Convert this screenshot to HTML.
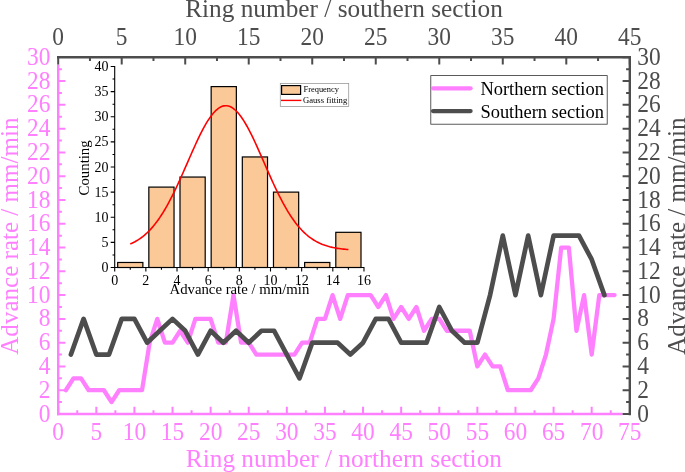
<!DOCTYPE html>
<html><head><meta charset="utf-8"><title>chart</title><style>html,body{margin:0;padding:0;background:#fff}svg{display:block;will-change:transform}</style></head><body>
<svg width="685" height="472" viewBox="0 0 685 472" font-family="'Liberation Serif', serif">
<rect width="685" height="472" fill="#fff"/>
<polyline points="65.82,390.22 73.44,378.33 81.06,378.33 88.69,390.22 96.31,390.22 103.93,390.22 111.55,402.11 119.17,390.22 126.79,390.22 134.41,390.22 142.03,390.22 149.66,342.66 157.28,318.88 164.9,342.66 172.52,342.66 180.14,330.77 187.76,342.66 195.38,318.88 203.01,318.88 210.63,318.88 218.25,342.66 225.87,342.66 233.49,295.1 241.11,342.66 248.73,342.66 256.35,354.55 263.98,354.55 271.6,354.55 279.22,354.55 286.84,354.55 294.46,354.55 302.08,342.66 309.7,342.66 317.33,318.88 324.95,318.88 332.57,295.1 340.19,318.88 347.81,295.1 355.43,295.1 363.05,295.1 370.67,295.1 378.3,306.99 385.92,295.1 393.54,318.88 401.16,306.99 408.78,318.88 416.4,306.99 424.02,330.77 431.65,318.88 439.27,318.88 446.89,330.77 454.51,330.77 462.13,330.77 469.75,330.77 477.37,366.44 484.99,354.55 492.62,366.44 500.24,366.44 507.86,390.22 515.48,390.22 523.1,390.22 530.72,390.22 538.34,378.33 545.97,354.55 553.59,318.88 561.21,247.54 568.83,247.54 576.45,330.77 584.07,295.1 591.69,354.55 599.31,295.1 606.94,295.1 614.56,295.1" fill="none" stroke="#FF80FF" stroke-width="4.3" stroke-linejoin="round" stroke-linecap="round"/>
<polyline points="70.9,354.55 83.6,318.88 96.31,354.55 109.01,354.55 121.71,318.88 134.41,318.88 147.12,342.66 159.82,330.77 172.52,318.88 185.22,330.77 197.92,354.55 210.63,330.77 223.33,342.66 236.03,330.77 248.73,342.66 261.44,330.77 274.14,330.77 286.84,354.55 299.54,378.33 312.24,342.66 324.95,342.66 337.65,342.66 350.35,354.55 363.05,342.66 375.76,318.88 388.46,318.88 401.16,342.66 413.86,342.66 426.56,342.66 439.27,306.99 451.97,330.77 464.67,342.66 477.37,342.66 490.08,295.1 502.78,235.65 515.48,295.1 528.18,235.65 540.88,295.1 553.59,235.65 566.29,235.65 578.99,235.65 591.69,259.43 604.4,295.1" fill="none" stroke="#4D4D4D" stroke-width="4.7" stroke-linejoin="round" stroke-linecap="round"/>
<path d="M58.2 64.5V415.2" stroke="#FF80FF" stroke-width="2.4" fill="none"/>
<path d="M58.2 414h7.2 M58.2 402.11h3.7 M58.2 390.22h7.2 M58.2 378.33h3.7 M58.2 366.44h7.2 M58.2 354.55h3.7 M58.2 342.66h7.2 M58.2 330.77h3.7 M58.2 318.88h7.2 M58.2 306.99h3.7 M58.2 295.1h7.2 M58.2 283.21h3.7 M58.2 271.32h7.2 M58.2 259.43h3.7 M58.2 247.54h7.2 M58.2 235.65h3.7 M58.2 223.76h7.2 M58.2 211.87h3.7 M58.2 199.98h7.2 M58.2 188.09h3.7 M58.2 176.2h7.2 M58.2 164.31h3.7 M58.2 152.42h7.2 M58.2 140.53h3.7 M58.2 128.64h7.2 M58.2 116.75h3.7 M58.2 104.86h7.2 M58.2 92.97h3.7 M58.2 81.08h7.2 M58.2 69.19h3.7" stroke="#FF80FF" stroke-width="2.0" fill="none"/>
<path d="M57 414H622.6" stroke="#FF80FF" stroke-width="2.4" fill="none"/>
<path d="M58.2 414v-7.2 M77.25 414v-3.7 M96.31 414v-7.2 M115.36 414v-3.7 M134.41 414v-7.2 M153.47 414v-3.7 M172.52 414v-7.2 M191.57 414v-3.7 M210.63 414v-7.2 M229.68 414v-3.7 M248.73 414v-7.2 M267.79 414v-3.7 M286.84 414v-7.2 M305.89 414v-3.7 M324.95 414v-7.2 M344 414v-3.7 M363.05 414v-7.2 M382.11 414v-3.7 M401.16 414v-7.2 M420.21 414v-3.7 M439.27 414v-7.2 M458.32 414v-3.7 M477.37 414v-7.2 M496.43 414v-3.7 M515.48 414v-7.2 M534.53 414v-3.7 M553.59 414v-7.2 M572.64 414v-3.7 M591.69 414v-7.2 M610.75 414v-3.7" stroke="#FF80FF" stroke-width="2.0" fill="none"/>
<path d="M57 57.3H631" stroke="#4D4D4D" stroke-width="2.4" fill="none"/>
<path d="M58.2 57.3v7.2 M89.96 57.3v3.7 M121.71 57.3v7.2 M153.47 57.3v3.7 M185.22 57.3v7.2 M216.98 57.3v3.7 M248.73 57.3v7.2 M280.49 57.3v3.7 M312.24 57.3v7.2 M344 57.3v3.7 M375.76 57.3v7.2 M407.51 57.3v3.7 M439.27 57.3v7.2 M471.02 57.3v3.7 M502.78 57.3v7.2 M534.53 57.3v3.7 M566.29 57.3v7.2 M598.04 57.3v3.7 M629.8 57.3v7.2" stroke="#4D4D4D" stroke-width="2.0" fill="none"/>
<path d="M629.8 57.3V415.2" stroke="#4D4D4D" stroke-width="2.4" fill="none"/>
<path d="M629.8 414h-7.2 M629.8 402.11h-3.7 M629.8 390.22h-7.2 M629.8 378.33h-3.7 M629.8 366.44h-7.2 M629.8 354.55h-3.7 M629.8 342.66h-7.2 M629.8 330.77h-3.7 M629.8 318.88h-7.2 M629.8 306.99h-3.7 M629.8 295.1h-7.2 M629.8 283.21h-3.7 M629.8 271.32h-7.2 M629.8 259.43h-3.7 M629.8 247.54h-7.2 M629.8 235.65h-3.7 M629.8 223.76h-7.2 M629.8 211.87h-3.7 M629.8 199.98h-7.2 M629.8 188.09h-3.7 M629.8 176.2h-7.2 M629.8 164.31h-3.7 M629.8 152.42h-7.2 M629.8 140.53h-3.7 M629.8 128.64h-7.2 M629.8 116.75h-3.7 M629.8 104.86h-7.2 M629.8 92.97h-3.7 M629.8 81.08h-7.2 M629.8 69.19h-3.7 M629.8 57.3h-7.2" stroke="#4D4D4D" stroke-width="2.0" fill="none"/>
<g font-size="23.4" fill="#FF80FF" text-anchor="end">
<text transform="translate(50.4,421.6) scale(1,1.06)">0</text>
<text transform="translate(50.4,397.82) scale(1,1.06)">2</text>
<text transform="translate(50.4,374.04) scale(1,1.06)">4</text>
<text transform="translate(50.4,350.26) scale(1,1.06)">6</text>
<text transform="translate(50.4,326.48) scale(1,1.06)">8</text>
<text transform="translate(50.4,302.7) scale(1,1.06)">10</text>
<text transform="translate(50.4,278.92) scale(1,1.06)">12</text>
<text transform="translate(50.4,255.14) scale(1,1.06)">14</text>
<text transform="translate(50.4,231.36) scale(1,1.06)">16</text>
<text transform="translate(50.4,207.58) scale(1,1.06)">18</text>
<text transform="translate(50.4,183.8) scale(1,1.06)">20</text>
<text transform="translate(50.4,160.02) scale(1,1.06)">22</text>
<text transform="translate(50.4,136.24) scale(1,1.06)">24</text>
<text transform="translate(50.4,112.46) scale(1,1.06)">26</text>
<text transform="translate(50.4,88.68) scale(1,1.06)">28</text>
<text transform="translate(50.4,64.9) scale(1,1.06)">30</text>
</g>
<g font-size="23.4" fill="#4D4D4D" text-anchor="start">
<text transform="translate(637.2,421.6) scale(1,1.06)">0</text>
<text transform="translate(637.2,397.82) scale(1,1.06)">2</text>
<text transform="translate(637.2,374.04) scale(1,1.06)">4</text>
<text transform="translate(637.2,350.26) scale(1,1.06)">6</text>
<text transform="translate(637.2,326.48) scale(1,1.06)">8</text>
<text transform="translate(637.2,302.7) scale(1,1.06)">10</text>
<text transform="translate(637.2,278.92) scale(1,1.06)">12</text>
<text transform="translate(637.2,255.14) scale(1,1.06)">14</text>
<text transform="translate(637.2,231.36) scale(1,1.06)">16</text>
<text transform="translate(637.2,207.58) scale(1,1.06)">18</text>
<text transform="translate(637.2,183.8) scale(1,1.06)">20</text>
<text transform="translate(637.2,160.02) scale(1,1.06)">22</text>
<text transform="translate(637.2,136.24) scale(1,1.06)">24</text>
<text transform="translate(637.2,112.46) scale(1,1.06)">26</text>
<text transform="translate(637.2,88.68) scale(1,1.06)">28</text>
<text transform="translate(637.2,64.9) scale(1,1.06)">30</text>
</g>
<g font-size="23.4" fill="#FF80FF" text-anchor="middle">
<text transform="translate(58.2,440.4) scale(1,1.06)">0</text>
<text transform="translate(96.31,440.4) scale(1,1.06)">5</text>
<text transform="translate(134.41,440.4) scale(1,1.06)">10</text>
<text transform="translate(172.52,440.4) scale(1,1.06)">15</text>
<text transform="translate(210.63,440.4) scale(1,1.06)">20</text>
<text transform="translate(248.73,440.4) scale(1,1.06)">25</text>
<text transform="translate(286.84,440.4) scale(1,1.06)">30</text>
<text transform="translate(324.95,440.4) scale(1,1.06)">35</text>
<text transform="translate(363.05,440.4) scale(1,1.06)">40</text>
<text transform="translate(401.16,440.4) scale(1,1.06)">45</text>
<text transform="translate(439.27,440.4) scale(1,1.06)">50</text>
<text transform="translate(477.37,440.4) scale(1,1.06)">55</text>
<text transform="translate(515.48,440.4) scale(1,1.06)">60</text>
<text transform="translate(553.59,440.4) scale(1,1.06)">65</text>
<text transform="translate(591.69,440.4) scale(1,1.06)">70</text>
<text transform="translate(629.8,440.4) scale(1,1.06)">75</text>
</g>
<g font-size="23.4" fill="#4D4D4D" text-anchor="middle">
<text transform="translate(58.2,44.9) scale(1,1.06)">0</text>
<text transform="translate(121.71,44.9) scale(1,1.06)">5</text>
<text transform="translate(185.22,44.9) scale(1,1.06)">10</text>
<text transform="translate(248.73,44.9) scale(1,1.06)">15</text>
<text transform="translate(312.24,44.9) scale(1,1.06)">20</text>
<text transform="translate(375.76,44.9) scale(1,1.06)">25</text>
<text transform="translate(439.27,44.9) scale(1,1.06)">30</text>
<text transform="translate(502.78,44.9) scale(1,1.06)">35</text>
<text transform="translate(566.29,44.9) scale(1,1.06)">40</text>
<text transform="translate(629.8,44.9) scale(1,1.06)">45</text>
</g>
<text x="344" y="17.2" font-size="25" fill="#4D4D4D" text-anchor="middle" textLength="317.6" lengthAdjust="spacingAndGlyphs">Ring number / southern section</text>
<text x="343.9" y="466.5" font-size="25" fill="#FF80FF" text-anchor="middle" textLength="316.1" lengthAdjust="spacingAndGlyphs">Ring number / northern section</text>
<text transform="translate(17.5,236.15) rotate(-90)" font-size="25" fill="#FF80FF" text-anchor="middle" textLength="237.2" lengthAdjust="spacingAndGlyphs">Advance rate / mm/min</text>
<text transform="translate(684.6,236.15) rotate(-90)" font-size="25" fill="#4D4D4D" text-anchor="middle" textLength="237.2" lengthAdjust="spacingAndGlyphs">Advance rate / mm/min</text>
<rect x="430.8" y="75.6" width="176.4" height="48.6" fill="#fff" stroke="#333" stroke-width="0.8"/>
<line x1="433" y1="88.3" x2="470.6" y2="88.3" stroke="#FF80FF" stroke-width="4.2" stroke-linecap="round"/>
<line x1="433" y1="111.1" x2="470.6" y2="111.1" stroke="#4D4D4D" stroke-width="4.2" stroke-linecap="round"/>
<text x="480.4" y="95" font-size="18.4" fill="#000" textLength="123.5" lengthAdjust="spacingAndGlyphs">Northern section</text>
<text x="480.4" y="117.6" font-size="18.4" fill="#000" textLength="123.5" lengthAdjust="spacingAndGlyphs">Southern section</text>
<rect x="117.68" y="262.48" width="25.2" height="5.02" fill="#FBC898" stroke="#000" stroke-width="1.2"/>
<rect x="148.84" y="187.1" width="25.2" height="80.4" fill="#FBC898" stroke="#000" stroke-width="1.2"/>
<rect x="180" y="177.05" width="25.2" height="90.45" fill="#FBC898" stroke="#000" stroke-width="1.2"/>
<rect x="211.16" y="86.6" width="25.2" height="180.9" fill="#FBC898" stroke="#000" stroke-width="1.2"/>
<rect x="242.32" y="156.95" width="25.2" height="110.55" fill="#FBC898" stroke="#000" stroke-width="1.2"/>
<rect x="273.48" y="192.12" width="25.2" height="75.38" fill="#FBC898" stroke="#000" stroke-width="1.2"/>
<rect x="304.64" y="262.48" width="25.2" height="5.02" fill="#FBC898" stroke="#000" stroke-width="1.2"/>
<rect x="335.8" y="232.32" width="25.2" height="35.18" fill="#FBC898" stroke="#000" stroke-width="1.2"/>
<polyline points="130.28,243.93 131.84,243.24 133.4,242.5 134.95,241.69 136.51,240.81 138.07,239.87 139.63,238.85 141.19,237.75 142.74,236.57 144.3,235.31 145.86,233.96 147.42,232.52 148.98,230.99 150.53,229.36 152.09,227.63 153.65,225.79 155.21,223.86 156.77,221.82 158.32,219.67 159.88,217.42 161.44,215.06 163,212.59 164.56,210.02 166.11,207.35 167.67,204.57 169.23,201.7 170.79,198.73 172.35,195.67 173.9,192.52 175.46,189.3 177.02,186 178.58,182.64 180.14,179.22 181.69,175.74 183.25,172.23 184.81,168.69 186.37,165.13 187.93,161.57 189.48,158 191.04,154.46 192.6,150.94 194.16,147.46 195.72,144.03 197.27,140.68 198.83,137.4 200.39,134.22 201.95,131.15 203.51,128.19 205.06,125.37 206.62,122.7 208.18,120.19 209.74,117.84 211.3,115.68 212.85,113.7 214.41,111.93 215.97,110.36 217.53,109.02 219.09,107.89 220.64,106.99 222.2,106.33 223.76,105.9 225.32,105.71 226.88,105.75 228.43,106.04 229.99,106.56 231.55,107.32 233.11,108.31 234.67,109.53 236.22,110.96 237.78,112.61 239.34,114.47 240.9,116.52 242.46,118.76 244.01,121.17 245.57,123.75 247.13,126.48 248.69,129.36 250.25,132.36 251.8,135.48 253.36,138.7 254.92,142.01 256.48,145.4 258.04,148.84 259.59,152.34 261.15,155.87 262.71,159.43 264.27,162.99 265.83,166.56 267.38,170.11 268.94,173.64 270.5,177.14 272.06,180.59 273.62,183.99 275.17,187.33 276.73,190.6 278.29,193.79 279.85,196.9 281.41,199.92 282.96,202.86 284.52,205.69 286.08,208.43 287.64,211.06 289.2,213.59 290.75,216.01 292.31,218.33 293.87,220.54 295.43,222.65 296.99,224.64 298.54,226.54 300.1,228.33 301.66,230.02 303.22,231.61 304.78,233.11 306.33,234.51 307.89,235.83 309.45,237.06 311.01,238.2 312.57,239.27 314.12,240.25 315.68,241.17 317.24,242.02 318.8,242.8 320.36,243.52 321.91,244.18 323.47,244.79 325.03,245.35 326.59,245.86 328.15,246.33 329.7,246.75 331.26,247.13 332.82,247.48 334.38,247.8 335.94,248.09 337.49,248.35 339.05,248.58 340.61,248.79 342.17,248.98 343.73,249.14 345.28,249.29 346.84,249.43 348.4,249.55" fill="none" stroke="#FF0000" stroke-width="1.6"/>
<path d="M114.7 66 V268 M114.7 267.5 h-4 M114.7 242.38 h-4 M114.7 217.25 h-4 M114.7 192.12 h-4 M114.7 167 h-4 M114.7 141.88 h-4 M114.7 116.75 h-4 M114.7 91.62 h-4 M114.7 66.5 h-4 M114.7 267.5 h-4 M114.7 254.94 h-2.2 M114.7 242.38 h-4 M114.7 229.81 h-2.2 M114.7 217.25 h-4 M114.7 204.69 h-2.2 M114.7 192.12 h-4 M114.7 179.56 h-2.2 M114.7 167 h-4 M114.7 154.44 h-2.2 M114.7 141.88 h-4 M114.7 129.31 h-2.2 M114.7 116.75 h-4 M114.7 104.19 h-2.2 M114.7 91.62 h-4 M114.7 79.06 h-2.2 M114.7 66.5 h-4 M114.2 267.5 H364.48 M114.7 267.5 v4 M130.28 267.5 v2.2 M145.86 267.5 v4 M161.44 267.5 v2.2 M177.02 267.5 v4 M192.6 267.5 v2.2 M208.18 267.5 v4 M223.76 267.5 v2.2 M239.34 267.5 v4 M254.92 267.5 v2.2 M270.5 267.5 v4 M286.08 267.5 v2.2 M301.66 267.5 v4 M317.24 267.5 v2.2 M332.82 267.5 v4 M348.4 267.5 v2.2 M363.98 267.5 v4" stroke="#000" stroke-width="1.1" fill="none"/>
<g font-size="14" fill="#000" text-anchor="end">
<text x="108.6" y="272.1">0</text>
<text x="108.6" y="246.97">5</text>
<text x="108.6" y="221.85">10</text>
<text x="108.6" y="196.72">15</text>
<text x="108.6" y="171.6">20</text>
<text x="108.6" y="146.47">25</text>
<text x="108.6" y="121.35">30</text>
<text x="108.6" y="96.22">35</text>
<text x="108.6" y="71.1">40</text>
</g>
<g font-size="14" fill="#000" text-anchor="middle">
<text x="114.7" y="284.6">0</text>
<text x="145.86" y="284.6">2</text>
<text x="177.02" y="284.6">4</text>
<text x="208.18" y="284.6">6</text>
<text x="239.34" y="284.6">8</text>
<text x="270.5" y="284.6">10</text>
<text x="301.66" y="284.6">12</text>
<text x="332.82" y="284.6">14</text>
<text x="363.98" y="284.6">16</text>
</g>
<text x="239.4" y="294.2" font-size="14.5" fill="#000" text-anchor="middle" textLength="139.8" lengthAdjust="spacingAndGlyphs">Advance rate / mm/min</text>
<text transform="translate(88.6,167.9) rotate(-90)" font-size="14.5" fill="#000" text-anchor="middle" textLength="55.2" lengthAdjust="spacingAndGlyphs">Counting</text>
<rect x="280.3" y="83.4" width="68.4" height="23" fill="#fff" stroke="#9a9a9a" stroke-width="0.8"/>
<rect x="281.6" y="85.6" width="19" height="8.8" fill="#FBC898" stroke="#000" stroke-width="1.2"/>
<line x1="281" y1="100.4" x2="301.3" y2="100.4" stroke="#FF0000" stroke-width="1.4"/>
<text x="303.5" y="92.2" font-size="8.6" fill="#000" textLength="35.5" lengthAdjust="spacingAndGlyphs">Frequency</text>
<text x="303" y="103.3" font-size="8.6" fill="#000" textLength="44.2" lengthAdjust="spacingAndGlyphs">Gauss fitting</text>
</svg>
</body></html>
